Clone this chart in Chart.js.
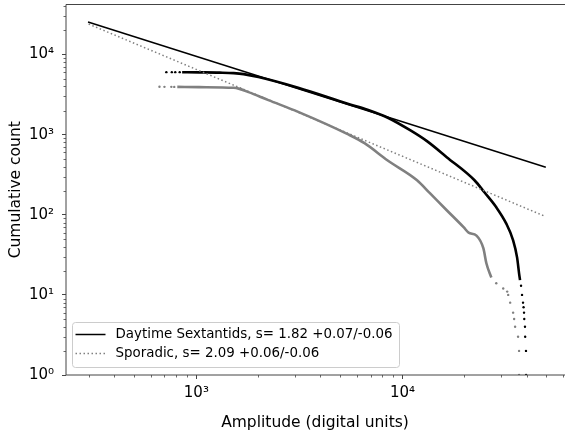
<!DOCTYPE html>
<html lang="en">
<head>
  <meta charset="UTF-8">
  <title>Cumulative count</title>
  <style>
    html, body { margin: 0; padding: 0; background: #fff; overflow: hidden; }
    .chart { position: relative; width: 568px; height: 436px; }
  </style>
</head>
<body>
  <div class="chart">
    <canvas id="chart"></canvas>
  </div>
  <script src="https://cdn.jsdelivr.net/npm/chart.js@4/dist/chart.umd.min.js"></script>
  <script>
    // [amplitude (digital units), cumulative count]
    const shwFit = [[298, 25470], [49620, 393]];
    const sporFit = [[300, 24050], [48760, 96.6]];

    const shwHead = [[715, 6040], [760, 6038], [790, 6036], [830, 6033]];
    const shwCurve = [[853, 6030], [1030, 6000], [1300, 5950], [1518, 5870], [1696, 5705], [2001, 5236],
      [3118, 3850], [5422, 2441], [6765, 2053], [8444, 1640], [10890, 1138], [13150, 830],
      [16400, 524], [22370, 270], [24980, 191], [28530, 124], [31860, 78], [34440, 48], [35990, 29.4],
      [36800, 18.6], [37200, 15.3]];
    const shwTail = [[37620, 13], [38040, 10], [38460, 8], [38700, 7], [38900, 6], [39000, 5],
      [39320, 4], [39400, 3], [39760, 2], [39800, 1]];

    const sporHead = [[662, 3960], [700, 3958], [756, 3955], [781, 3952]];
    const sporCurve = [[808, 3950], [1030, 3924], [1518, 3850], [1604, 3760], [1792, 3400], [2236, 2700],
      [3118, 1928], [5422, 1015], [6544, 783], [8444, 480], [11770, 270], [13590, 186], [16400, 114],
      [19800, 70], [20930, 60], [22870, 55], [24710, 38], [25540, 24.8], [27000, 16.5]];
    const sporTail = [[28530, 14], [30830, 12], [32230, 11], [32590, 10], [33320, 8], [34440, 6],
      [34830, 5], [35210, 4], [36390, 3], [36800, 2], [36800, 1]];

    const xTicks = [1000, 10000];
    const xTickLabels = ['10³', '10⁴'];
    const yTicks = [1, 10, 100, 1000, 10000];
    const yTickLabels = ['10⁰', '10¹', '10²', '10³', '10⁴'];

    const FONT = 'DejaVu Sans';
    const pts = (arr) => arr.map(([x, y]) => ({ x, y }));

    // spines, minor ticks and the legend box
    const frame = {
      id: 'frame',
      afterDraw(chart) {
        const { ctx, chartArea: a, scales: { x, y } } = chart;
        ctx.save();
        ctx.strokeStyle = '#444';
        ctx.lineWidth = 1;
        ctx.beginPath();
        ctx.moveTo(a.left, a.top); ctx.lineTo(a.right + 1, a.top);
        ctx.moveTo(a.left, a.top); ctx.lineTo(a.left, a.bottom);
        ctx.lineTo(a.right + 1, a.bottom);
        ctx.stroke();

        ctx.lineWidth = 0.8;
        ctx.beginPath();
        for (let d = 0; d < 6; d++) {
          for (let k = 2; k < 10; k++) {
            const v = k * Math.pow(10, d);
            if (v > x.min && v < x.max) {
              const px = Math.round(x.getPixelForValue(v)) + 0.5;
              ctx.moveTo(px, a.bottom); ctx.lineTo(px, a.bottom + 2.5);
            }
            if (v > y.min && v < y.max) {
              const py = Math.round(y.getPixelForValue(v)) + 0.5;
              ctx.moveTo(a.left, py); ctx.lineTo(a.left - 2.5, py);
            }
          }
        }
        ctx.stroke();

        const items = chart.data.datasets.filter(ds => ds.inLegend);
        ctx.font = '13.4px "' + FONT + '"';
        const textW = Math.max(...items.map(ds => ctx.measureText(ds.label).width));
        const bx = a.left + 6, bh = 45, by = a.bottom - 8 - bh, bw = textW + 50;
        ctx.fillStyle = 'rgba(255,255,255,0.8)';
        ctx.strokeStyle = '#cccccc';
        ctx.lineWidth = 1;
        ctx.beginPath();
        ctx.roundRect(bx + 0.5, by + 0.5, bw, bh, 3);
        ctx.fill();
        ctx.stroke();
        items.forEach((ds, i) => {
          const ry = by + 12.5 + i * 19;
          ctx.strokeStyle = ds.borderColor;
          ctx.lineWidth = ds.borderWidth;
          ctx.setLineDash(ds.borderDash || []);
          ctx.beginPath();
          ctx.moveTo(bx + 3.5, ry); ctx.lineTo(bx + 33.5, ry);
          ctx.stroke();
          ctx.setLineDash([]);
          ctx.fillStyle = '#000';
          ctx.textBaseline = 'middle';
          ctx.fillText(ds.label, bx + 43.5, ry);
        });
        ctx.restore();
      }
    };

    new Chart(document.getElementById('chart'), {
      type: 'scatter',
      data: {
        datasets: [
          { label: 'Daytime Sextantids, s= 1.82 +0.07/-0.06', inLegend: true, data: pts(shwFit), showLine: true,
            borderColor: '#000', borderWidth: 1.5, pointRadius: 0 },
          { label: 'Sporadic, s= 2.09 +0.06/-0.06', inLegend: true, data: pts(sporFit), showLine: true,
            borderColor: '#808080', borderWidth: 1.5, borderDash: [1.5, 2.5], pointRadius: 0 },
          { data: pts(sporCurve), showLine: true, borderColor: '#808080', borderWidth: 2.6, pointRadius: 0,
            cubicInterpolationMode: 'monotone' },
          { data: pts(sporHead.concat(sporTail)), showLine: false, pointRadius: 1.2, borderWidth: 0,
            backgroundColor: '#808080' },
          { data: pts(shwCurve), showLine: true, borderColor: '#000', borderWidth: 2.6, pointRadius: 0,
            cubicInterpolationMode: 'monotone' },
          { data: pts(shwHead.concat(shwTail)), showLine: false, pointRadius: 1.2, borderWidth: 0,
            backgroundColor: '#000' }
        ]
      },
      options: {
        animation: false,
        responsive: true,
        maintainAspectRatio: false,
        layout: { padding: { top: 4.5, right: 0, left: 0, bottom: 0 } },
        plugins: { legend: { display: false }, tooltip: { enabled: false } },
        scales: {
          x: {
            type: 'logarithmic',
            min: 233,
            max: 60800,
            afterBuildTicks: (s) => { s.ticks = xTicks.map(v => ({ value: v })); },
            afterFit: (s) => { s.height = 61; s.paddingLeft = 0; s.paddingRight = 0; },
            grid: { drawOnChartArea: false, tickLength: 4, color: '#444', tickWidth: 1 },
            border: { display: false },
            ticks: { autoSkip: false, maxRotation: 0, padding: 5, color: '#000',
              font: { family: FONT, size: 15 }, callback: (v, i) => xTickLabels[i] },
            title: { display: true, text: 'Amplitude (digital units)', color: '#000',
              font: { family: FONT, size: 15.5 }, padding: { bottom: 3.7 } }
          },
          y: {
            type: 'logarithmic',
            min: 1,
            max: 42200,
            afterBuildTicks: (s) => { s.ticks = yTicks.map(v => ({ value: v })); },
            afterFit: (s) => { s.width = 66; s.paddingTop = 0; s.paddingBottom = 0; },
            grid: { drawOnChartArea: false, tickLength: 4, color: '#444', tickWidth: 1 },
            border: { display: false },
            ticks: { autoSkip: false, padding: 8, color: '#000',
              font: { family: FONT, size: 15 }, callback: (v, i) => yTickLabels[i] },
            title: { display: true, text: 'Cumulative count', color: '#000',
              font: { family: FONT, size: 15.5 }, padding: { top: 6.2 } }
          }
        }
      },
      plugins: [frame]
    });
  </script>
</body>
</html>
